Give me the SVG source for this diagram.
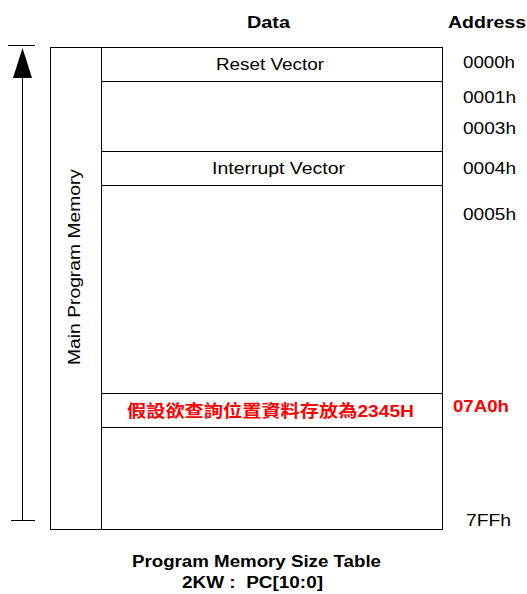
<svg xmlns="http://www.w3.org/2000/svg" width="527" height="594" viewBox="0 0 527 594">
<style>
.ln{fill:none;stroke:#000;stroke-width:1}
.t{font-family:"Liberation Sans",Arial,sans-serif;font-size:16px;fill:#000}
.b{font-weight:bold}
.r{fill:#ff0000;font-weight:bold}
</style>
<rect width="527" height="594" fill="#fff"/>
<g id="header">
<text class="t b" x="247" y="28" textLength="43" lengthAdjust="spacingAndGlyphs">Data</text>
<text class="t b" x="448" y="28" textLength="78" lengthAdjust="spacingAndGlyphs">Address</text>
</g>
<g id="memory">
<rect class="ln" x="50.5" y="47.5" width="392" height="482"/>
<line class="ln" x1="101.5" y1="47.5" x2="101.5" y2="529.5"/>
<text class="t" transform="translate(80,365) rotate(-90)" textLength="196" lengthAdjust="spacingAndGlyphs">Main Program Memory</text>
</g>
<g id="reset">
<line class="ln" x1="101.5" y1="81.5" x2="442.5" y2="81.5"/>
<text class="t" x="216" y="70" textLength="108" lengthAdjust="spacingAndGlyphs">Reset Vector</text>
</g>
<g id="interrupt">
<rect class="ln" x="101.5" y="151.5" width="341" height="34"/>
<text class="t" x="212" y="174" textLength="133" lengthAdjust="spacingAndGlyphs">Interrupt Vector</text>
</g>
<g id="target">
<rect class="ln" x="101.5" y="393.5" width="341" height="34"/>
<text class="t r" x="127" y="417" textLength="287" lengthAdjust="spacingAndGlyphs" style="font-size:17px;font-family:'Liberation Sans','Noto Sans CJK TC',sans-serif">假設欲查詢位置資料存放為2345H</text>
</g>
<g id="addresses">
<text class="t" x="463" y="68" textLength="52" lengthAdjust="spacingAndGlyphs">0000h</text>
<text class="t" x="463" y="103" textLength="53" lengthAdjust="spacingAndGlyphs">0001h</text>
<text class="t" x="463" y="134" textLength="53" lengthAdjust="spacingAndGlyphs">0003h</text>
<text class="t" x="463" y="174" textLength="53" lengthAdjust="spacingAndGlyphs">0004h</text>
<text class="t" x="463" y="220" textLength="53" lengthAdjust="spacingAndGlyphs">0005h</text>
<text class="t r" x="453" y="412" textLength="56" lengthAdjust="spacingAndGlyphs">07A0h</text>
<text class="t" x="466" y="526" textLength="45" lengthAdjust="spacingAndGlyphs">7FFh</text>
</g>
<g id="connectors">
<line class="ln" x1="8" y1="45.5" x2="35" y2="45.5"/>
<line class="ln" x1="11" y1="520.5" x2="35" y2="520.5"/>
<line class="ln" x1="22.5" y1="70" x2="22.5" y2="520"/>
<polygon points="22.5,48 13,78 32,78" fill="#000"/>
</g>
<g id="caption">
<text class="t b" x="132" y="567" textLength="249" lengthAdjust="spacingAndGlyphs">Program Memory Size Table</text>
<text class="t b" x="182" y="588" textLength="141" lengthAdjust="spacingAndGlyphs">2KW :&#160; PC[10:0]</text>
</g>
</svg>
